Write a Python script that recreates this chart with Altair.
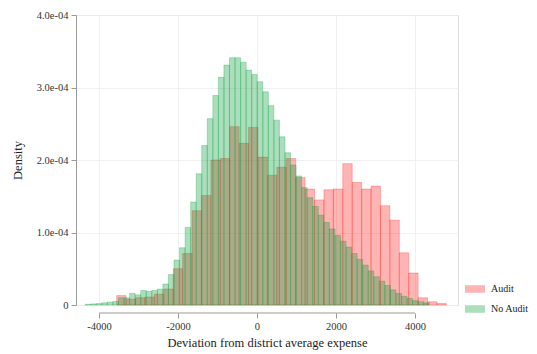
import altair as alt
import pandas as pd

# ---- data ----
x_ticks = [-4000, -2000, 0, 2000, 4000]
y_ticks = [0, 1e-4, 2e-4, 3e-4, 4e-4]
series = ["Audit", "No Audit"]
colors = ["#FF1A1A", "#009C35"]

# Audit histogram (35 bins), densities in units of 1e-4
audit_start = -3552
audit_width = 238.5
audit_density = [0.13, 0.08, 0.10, 0.11, 0.15, 0.22, 0.50, 0.71, 1.30, 1.51,
                 2.00, 2.02, 2.46, 2.23, 2.45, 2.04, 1.79, 1.90, 2.02, 1.76,
                 1.60, 1.45, 1.59, 1.60, 1.95, 1.69, 1.60, 1.64, 1.37, 1.17,
                 0.72, 0.44, 0.10, 0.045, 0.02]

# No Audit histogram (62 bins), densities in units of 1e-4
noaudit_start = -4349
noaudit_width = 140.5
noaudit_density = [0.01, 0.015, 0.02, 0.03, 0.04, 0.05, 0.10, 0.10, 0.16, 0.14,
                   0.20, 0.19, 0.20, 0.22, 0.29, 0.42, 0.62, 0.79, 1.07, 1.42,
                   1.81, 2.20, 2.57, 2.89, 3.14, 3.31, 3.41, 3.41, 3.35, 3.24,
                   3.18, 3.08, 2.94, 2.75, 2.55, 2.32, 2.10, 1.93, 1.78, 1.62,
                   1.48, 1.36, 1.24, 1.14, 1.05, 0.96, 0.88, 0.80, 0.71, 0.63,
                   0.55, 0.47, 0.39, 0.33, 0.27, 0.21, 0.16, 0.12, 0.09, 0.06,
                   0.045, 0.03]

rows = []
for name, start, w, vals in [("Audit", audit_start, audit_width, audit_density),
                             ("No Audit", noaudit_start, noaudit_width, noaudit_density)]:
    for i, v in enumerate(vals):
        rows.append({"group": name, "x0": start + i * w, "x1": start + (i + 1) * w,
                     "density": v * 1e-4, "base": 0.0})
df = pd.DataFrame(rows)

W, H = 382, 290
FONT = "Liberation Serif"

xscale = alt.Scale(domain=[-4582, 5089], nice=False, zero=False)
yscale = alt.Scale(domain=[0, 4e-4], nice=False, zero=True)
cscale = alt.Scale(domain=series, range=colors)

bars = alt.Chart(df).mark_rect(fillOpacity=0.33, strokeOpacity=0.45, strokeWidth=0.6).encode(
    x=alt.X("x0:Q", scale=xscale,
            axis=alt.Axis(values=x_ticks, title="Deviation from district average expense",
                          labelExpr="'' + datum.value",
                          offset=8, domain=False, grid=True, gridColor="#EDEDED", gridWidth=0.8,
                          tickSize=5, tickColor="#9A9A9A", labelPadding=3, labelFontSize=10.5,
                          labelFont=FONT, labelColor="#333333", titleFont=FONT,
                          titleFontSize=12.5, titleFontWeight="normal", titleColor="#222222",
                          titlePadding=5)),
    x2="x1:Q",
    y=alt.Y("density:Q", scale=yscale,
            axis=alt.Axis(values=y_ticks, title="Density",
                          labelExpr="datum.value == 0 ? '0' : format(datum.value * 10000, '.1f') + 'e-04'",
                          domain=True, domainColor="#9A9A9A", grid=True, gridColor="#EDEDED",
                          gridWidth=0.8, tickSize=5, tickColor="#9A9A9A", labelPadding=3,
                          labelFontSize=10.5, labelFont=FONT, labelColor="#333333",
                          titleFont=FONT, titleFontSize=12.5, titleFontWeight="normal",
                          titleColor="#222222", titlePadding=12)),
    y2="base:Q",
    fill=alt.Fill("group:N", scale=cscale,
                  legend=alt.Legend(title=None, orient="none", legendX=389, legendY=264,
                                    symbolType="M-1,-0.38H1V0.38H-1Z", symbolSize=400,
                                    symbolOpacity=0.33, symbolStrokeWidth=0,
                                    labelFont=FONT, labelFontSize=10, labelColor="#222222",
                                    rowPadding=5, labelOffset=6, padding=0)),
    stroke=alt.Stroke("group:N", scale=cscale, legend=None),
)

axis_df = pd.DataFrame({"a": [x_ticks[0]], "b": [x_ticks[-1]]})
xaxis_line = alt.Chart(axis_df).mark_rule(color="#9A9A9A", strokeWidth=1).encode(
    x=alt.X("a:Q", scale=xscale),
    x2="b:Q",
    y=alt.value(H + 8),
)

chart = alt.layer(bars, xaxis_line).properties(
    width=W, height=H,
    padding={"left": 76, "top": 15, "right": 537 - 76 - W, "bottom": 354 - 15 - H},
    autosize=alt.AutoSizeParams(type="none"),
).configure_view(stroke=None).configure(background="white")

chart.save("out.html", embed_options={"renderer": "svg", "actions": False})
